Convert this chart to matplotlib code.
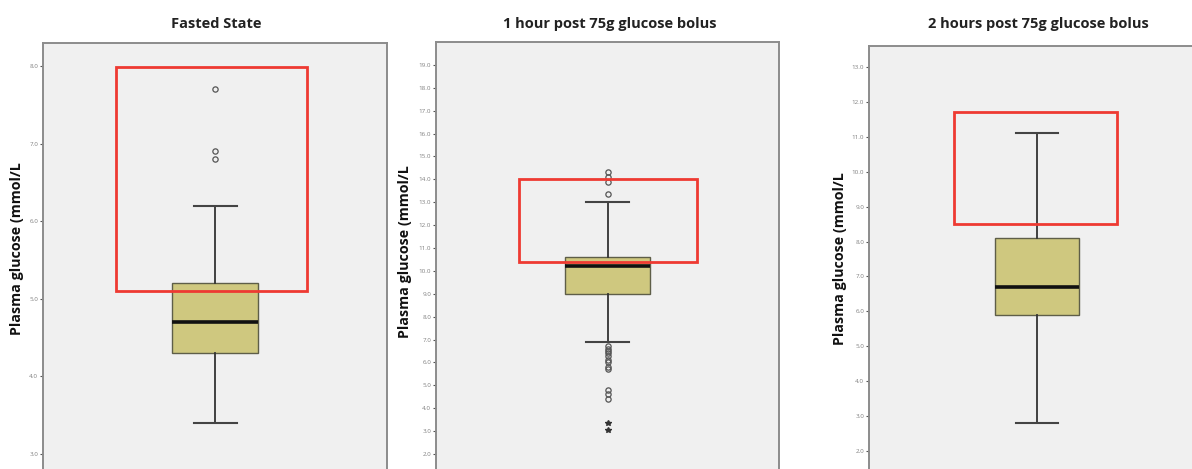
"""Box plots of plasma glucose at fasting, 1 h and 2 h after a 75 g glucose bolus."""

import matplotlib

matplotlib.use("Agg")
import matplotlib.pyplot as plt
from matplotlib.patches import Rectangle

plt.rcParams["font.family"] = ["Open Sans", "DejaVu Sans"]

TITLES = ["Fasted State", "1 hour post 75g glucose bolus", "2 hours post 75g glucose bolus"]
YLABEL = "Plasma glucose (mmol/L"

# five-number summaries
Q1 = [4.3, 9.0, 5.9]
MEDIAN = [4.7, 10.2, 6.7]
Q3 = [5.2, 10.6, 8.1]
WHISKER_LO = [3.4, 6.9, 2.8]
WHISKER_HI = [6.2, 13.0, 11.1]

# outliers (circles) and extremes (stars)
OUTLIERS = [
    [7.7, 6.9, 6.8],
    [14.3, 14.1, 13.9, 13.35, 6.7, 6.6, 6.5, 6.4, 6.3, 6.1, 6.0, 5.8, 5.7, 4.8, 4.6, 4.4],
    [],
]
EXTREMES = [[], [3.35, 3.05], []]

# highlighted range (red frame)
HIGHLIGHT_LO = [5.1, 10.4, 8.5]
HIGHLIGHT_HI = [7.99, 14.0, 11.7]

TICKS = [
    [3.0, 4.0, 5.0, 6.0, 7.0, 8.0],
    [float(v) for v in range(2, 20)],
    [float(v) for v in range(2, 14)],
]

# layout in pixels of a 1192x469 canvas
W, H = 1192, 469
AX_PX = [(43, 43, 344), (436, 42, 343), (869, 46, 336)]  # left, top, width
YLIM = [(2.807, 8.296), (1.345, 20.0), (1.484, 13.60)]
FRAME_X = [(0.424, 1.535), (0.484, 1.522), (0.506, 1.476)]
TITLE_PX = [(216, 24), (610, 24), (1038, 24)]
YLABEL_PX = [(17, 249), (405, 252), (840, 259)]

BOX_COLOR = "#cfc87f"
RED = "#ee3a32"


def main() -> int:
    fig = plt.figure(figsize=(W / 100, H / 100), dpi=100)
    for i in range(3):
        left, top, width = AX_PX[i]
        ax = fig.add_axes([left / W, 0.0, width / W, (H - top) / H])
        ax.set_facecolor("#f0f0f0")
        stats = [{
            "med": MEDIAN[i], "q1": Q1[i], "q3": Q3[i],
            "whislo": WHISKER_LO[i], "whishi": WHISKER_HI[i],
            "fliers": OUTLIERS[i],
        }]
        ax.bxp(
            stats, positions=[1.0], widths=0.5, patch_artist=True,
            boxprops=dict(facecolor=BOX_COLOR, edgecolor="#5e5e48", linewidth=1.0),
            medianprops=dict(color="#111111", linewidth=2.6),
            whiskerprops=dict(color="#333333", linewidth=1.3),
            capprops=dict(color="#444444", linewidth=1.5),
            capwidths=0.25,
            flierprops=dict(marker="o", markersize=3.8, markerfacecolor="none",
                            markeredgecolor="#555555", markeredgewidth=0.9),
        )
        if EXTREMES[i]:
            ax.plot([1.0] * len(EXTREMES[i]), EXTREMES[i], ls="none", marker="*",
                    markersize=4.0, color="#333333")
        x0, x1 = FRAME_X[i]
        ax.add_patch(Rectangle((x0, HIGHLIGHT_LO[i]), x1 - x0, HIGHLIGHT_HI[i] - HIGHLIGHT_LO[i],
                               fill=False, edgecolor=RED, linewidth=2.0, zorder=5))

        ax.set_xlim(0, 2)
        ax.set_ylim(*YLIM[i])
        ax.set_xticks([])
        ax.set_yticks(TICKS[i])
        ax.set_yticklabels([f"{v:.1f}" for v in TICKS[i]])
        ax.tick_params(axis="y", length=2.5, width=0.8, color="#555555", pad=1,
                       labelsize=4.5, labelcolor="#808080")
        for side in ("top", "left", "right"):
            ax.spines[side].set_color("#8c8c8c")
            ax.spines[side].set_linewidth(1.4)
        ax.spines["bottom"].set_visible(False)

        tx, ty = TITLE_PX[i]
        fig.text(tx / W, 1 - ty / H, TITLES[i], ha="center", va="center",
                 fontsize=10.5, fontweight="bold", color="#222222")
        lx, ly = YLABEL_PX[i]
        fig.text(lx / W, 1 - ly / H, YLABEL, rotation=90, ha="center", va="center",
                 fontsize=10.3, fontweight="bold", color="#111111")

    fig.savefig("out.png", dpi=100)
    plt.close(fig)
    return 0


if __name__ == "__main__":
    raise SystemExit(main())
